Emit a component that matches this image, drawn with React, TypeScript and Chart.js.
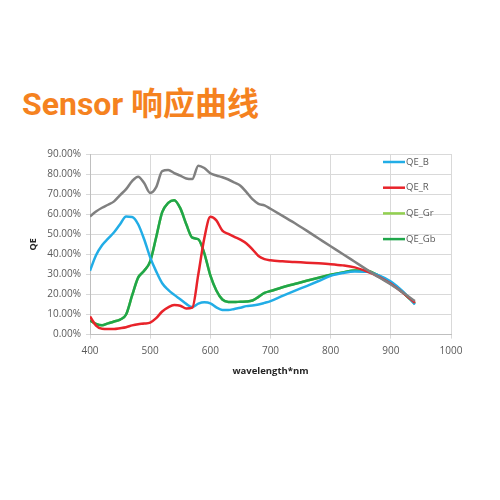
import { useEffect, useRef } from "react";
import { Chart, registerables } from "chart.js";

Chart.register(...registerables);

const wavelengths = [
  400, 410, 420, 430, 440, 450, 460, 470, 480, 490, 500, 510, 520, 530, 540, 550,
  560, 570, 580, 590, 600, 610, 620, 630, 640, 650, 660, 670, 680, 690, 700,
  720, 740, 760, 780, 800, 820, 840, 860, 880, 900, 920, 940,
];

const qeB = [
  31.8, 39.5, 44.5, 47.8, 51.0, 55.0, 58.8, 58.6, 55.0, 47.5, 38.5, 31.5, 25.6, 22.3, 19.8, 17.6,
  15.3, 13.7, 15.4, 16.1, 15.6, 13.6, 12.3, 12.2, 12.8, 13.4, 14.2, 14.5, 15.0, 15.8, 16.7,
  19.3, 21.8, 24.2, 26.7, 29.3, 30.7, 31.5, 31.3, 29.5, 26.5, 21.5, 15.0,
];

const qeR = [
  9.0, 4.5, 2.9, 2.8, 2.8, 3.2, 3.7, 4.6, 5.2, 5.5, 6.0, 8.2, 11.5, 13.6, 14.7, 14.4,
  13.0, 13.4, 30.0, 48.0, 58.7, 56.9, 51.8, 50.2, 48.7, 47.3, 45.4, 42.5, 39.2, 37.6, 37.0,
  36.5, 36.2, 35.8, 35.5, 35.1, 34.5, 33.5, 31.5, 28.8, 25.3, 20.8, 15.9,
];

const qeGr = [
  7.0, 5.3, 4.6, 5.6, 6.5, 7.5, 10.0, 19.5, 28.4, 31.8, 36.5, 48.5, 61.0, 65.6, 67.0, 63.0,
  55.0, 48.3, 47.5, 40.5, 29.5, 22.0, 17.5, 16.3, 16.2, 16.4, 16.5, 17.0, 18.8, 20.8, 21.7,
  23.6, 25.2, 26.8, 28.3, 29.8, 31.0, 32.0, 31.8, 29.3, 25.9, 21.0, 15.4,
];

const qeGb = [
  7.0, 5.3, 4.6, 5.6, 6.5, 7.5, 10.0, 19.5, 28.4, 31.8, 36.5, 48.5, 61.0, 65.6, 67.0, 63.0,
  55.0, 48.3, 47.5, 40.5, 29.5, 22.0, 17.5, 16.3, 16.2, 16.4, 16.5, 17.0, 18.8, 20.8, 21.7,
  23.6, 25.2, 26.8, 28.3, 29.8, 31.0, 32.0, 31.8, 29.3, 25.9, 21.0, 15.4,
];

const qeSum = [
  58.9, 61.3, 63.2, 64.7, 66.4, 69.5, 72.5, 76.5, 78.7, 75.5, 70.6, 73.5, 81.5, 82.0, 80.5, 79.2,
  77.8, 77.5, 84.2, 83.0, 80.4, 79.3, 78.4, 77.3, 75.8, 74.2, 71.0, 67.5, 65.2, 64.4, 62.7,
  59.2, 55.6, 51.8, 47.9, 44.0, 40.2, 36.3, 32.4, 28.6, 25.0, 21.0, 16.7,
];

const legendNames = ["QE_B", "QE_R", "QE_Gr", "QE_Gb"];
const legendColors = ["#22ade6", "#e8232a", "#92d050", "#1fa64a"];

const TICK_FONT = "'Open Sans', 'DejaVu Sans', sans-serif";

// legend sits inside the plot, to the right, over the grid
const insideLegend = {
  id: "insideLegend",
  afterDatasetsDraw(chart: Chart) {
    const { ctx, chartArea } = chart;
    ctx.save();
    legendNames.forEach((name, i) => {
      const y = chartArea.top + 8 + i * 25.7;
      const x0 = chartArea.right - 68;
      ctx.strokeStyle = legendColors[i];
      ctx.lineWidth = 2.5;
      ctx.beginPath();
      ctx.moveTo(x0, y);
      ctx.lineTo(x0 + 22, y);
      ctx.stroke();
      ctx.fillStyle = "#595959";
      ctx.font = `9.5px ${TICK_FONT}`;
      ctx.textBaseline = "middle";
      ctx.textAlign = "left";
      ctx.fillText(name, x0 + 23, y);
    });
    ctx.restore();
  },
};

export default function App() {
  const canvasRef = useRef<HTMLCanvasElement | null>(null);

  useEffect(() => {
    if (!canvasRef.current) return;
    const toPoints = (vals: number[]) => vals.map((v, i) => ({ x: wavelengths[i], y: v }));
    const line = (label: string, vals: number[], color: string, order: number) => ({
      label,
      data: toPoints(vals),
      borderColor: color,
      backgroundColor: color,
      borderWidth: 2.5,
      pointRadius: 0,
      cubicInterpolationMode: "monotone" as const,
      fill: false,
      order,
    });

    const chart = new Chart(canvasRef.current, {
      type: "line",
      data: {
        datasets: [
          line("QE_sum", qeSum, "#808080", 0),
          line("QE_R", qeR, legendColors[1], 1),
          line("QE_B", qeB, legendColors[0], 2),
          line("QE_Gb", qeGb, legendColors[3], 3),
          line("QE_Gr", qeGr, legendColors[2], 4),
        ],
      },
      options: {
        animation: false,
        responsive: true,
        maintainAspectRatio: false,
        layout: { padding: { left: 24, right: 49, top: 154, bottom: 110 } },
        plugins: {
          legend: { display: false },
          tooltip: { enabled: false },
        },
        scales: {
          x: {
            type: "linear",
            min: 400,
            max: 1000,
            ticks: {
              stepSize: 100,
              color: "#595959",
              padding: 7,
              font: { family: TICK_FONT, size: 10 },
              callback: (v: any) => String(v),
            },
            grid: { color: "#d9d9d9", tickLength: 4 },
            border: { color: "#bfbfbf" },
            title: {
              display: true,
              text: "wavelength*nm",
              color: "#262626",
              padding: { top: 1, bottom: 13 },
              font: { family: TICK_FONT, size: 9.5, weight: "bold" },
            },
          },
          y: {
            min: 0,
            max: 90,
            afterFit: (scale: any) => {
              scale.width = 66;
            },
            ticks: {
              stepSize: 10,
              color: "#595959",
              padding: 5,
              font: { family: TICK_FONT, size: 10 },
              callback: (v: any) => Number(v).toFixed(2) + "%",
            },
            grid: { color: "#d9d9d9", tickLength: 4 },
            border: { color: "#bfbfbf" },
            title: {
              display: true,
              text: "QE",
              color: "#262626",
              font: { family: TICK_FONT, size: 9, weight: "bold" },
            },
          },
        },
      },
      plugins: [insideLegend],
    });

    return () => {
      chart.destroy();
    };
  }, []);

  return (
    <div style={{ position: "fixed", left: 0, top: 0, width: 500, height: 500, background: "#fff" }}>
      <div
        style={{
          position: "absolute",
          left: 22,
          top: 88,
          fontFamily: "Roboto, 'Noto Sans CJK SC', sans-serif",
          fontWeight: "bold",
          fontSize: 32,
          lineHeight: 1,
          color: "#f5821f",
          whiteSpace: "nowrap",
        }}
      >
        Sensor 响应曲线
      </div>
      <div style={{ position: "absolute", left: 0, top: 0, width: 500, height: 500 }}>
        <canvas ref={canvasRef} />
      </div>
    </div>
  );
}
